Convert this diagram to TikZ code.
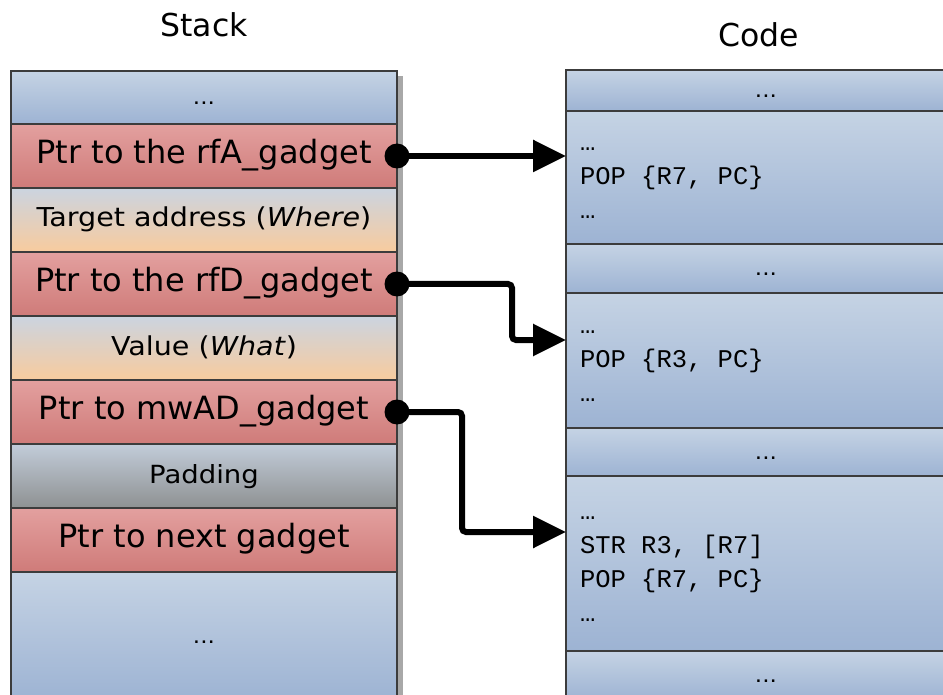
\documentclass[tikz,border=0pt]{standalone}
\usepackage{fontspec}
\usepackage{tikz}
\usetikzlibrary{arrows.meta,positioning,calc}
\usepackage{xcolor}
\setmainfont{DejaVu Sans}
\newfontfamily\cellfont[FakeStretch=1.1]{DejaVu Sans}
\newfontfamily\codefont{Liberation Mono}
\newcommand\cellstrut{\vrule height 24pt depth 10pt width 0pt\relax}
\newcommand\codespace{\spaceskip=15.3pt\relax}
\definecolor{edge}{HTML}{3C3C3C}
\definecolor{blueA}{HTML}{C5D3E4}
\definecolor{blueB}{HTML}{9DB3D3}
\definecolor{redA}{HTML}{E3A09F}
\definecolor{redB}{HTML}{CF7B79}
\definecolor{peachA}{HTML}{CBD4E0}
\definecolor{peachB}{HTML}{F8CB9E}
\definecolor{padA}{HTML}{C2CCD9}
\definecolor{padB}{HTML}{8E9192}
\definecolor{shadow}{HTML}{A8A8A8}

\tikzset{
  cell/.style={draw=edge, line width=1.2pt, minimum width=386pt, inner sep=0pt,
    outer sep=0pt, execute at begin node=\cellstrut},
  bluecell/.style={cell, top color=blueA, bottom color=blueB},
  redcell/.style={cell, top color=redA, bottom color=redB, minimum height=64pt,
    font=\fontsize{32}{34}\selectfont},
  peachcell/.style={cell, top color=peachA, bottom color=peachB, minimum height=64pt,
    font=\cellfont\fontsize{26}{34}\selectfont},
  padcell/.style={cell, top color=padA, bottom color=padB, minimum height=64pt,
    font=\cellfont\fontsize{25}{34}\selectfont},
  dotcell/.style={bluecell, font=\cellfont\fontsize{21}{28}\selectfont},
  codedots/.style={dotcell, minimum width=400pt},
  gadget/.style={cell, top color=blueA, bottom color=blueB, text width=372pt,
    inner xsep=14pt, align=left, execute at begin node={\codespace\cellstrut},
    execute at end node=\cellstrut,
    font=\codefont\fontsize{25.5}{34}\selectfont},
  heading/.style={font=\fontsize{31.5}{36}\selectfont, anchor=base},
  link/.style={line width=6pt, rounded corners=4pt,
    -{Triangle[length=33pt, width=31pt]}},
  dot/.style={circle, fill=black, inner sep=0pt, minimum size=25pt}
}

\begin{document}
\begin{tikzpicture}[x=1pt, y=-1pt]
  \useasboundingbox (0,0) rectangle (943,695);

  % Titles
  \node[heading] (stacktitle) at (204,37) {Stack};
  \node[heading] (codetitle) at (759,47) {Code};

  % Shadow of the stack
  \fill[shadow] (397,76) rectangle (403,700);

  % Stack
  \node[dotcell, anchor=north, minimum height=53pt] (s0) at (204,71) {...};
  \node[redcell, below=0pt of s0] (rfa) {Ptr to the rfA\_gadget};
  \node[peachcell, below=0pt of rfa] (where) {Target address (\textit{Where})};
  \node[redcell, below=0pt of where] (rfd) {Ptr to the rfD\_gadget};
  \node[peachcell, below=0pt of rfd] (what) {Value (\textit{What})};
  \node[redcell, below=0pt of what] (mwad) {Ptr to mwAD\_gadget};
  \node[padcell, below=0pt of mwad] (pad) {Padding};
  \node[redcell, below=0pt of pad] (nextg) {Ptr to next gadget};
  \node[dotcell, below=0pt of nextg, minimum height=128pt] (s9) {...};

  % Code
  \node[codedots, anchor=north west, minimum height=41pt] (c0) at (566,70) {...};
  \node[gadget, below=0pt of c0.south west, anchor=north west, minimum height=133pt]
    (gadA) {…\\POP \{R7, PC\}\\…};
  \node[codedots, below=0pt of gadA.south west, anchor=north west, minimum height=49pt]
    (c1) {...};
  \node[gadget, below=0pt of c1.south west, anchor=north west, minimum height=135pt]
    (gadD) {…\\POP \{R3, PC\}\\…};
  \node[codedots, below=0pt of gadD.south west, anchor=north west, minimum height=48pt]
    (c2) {...};
  \node[gadget, below=0pt of c2.south west, anchor=north west, minimum height=175pt]
    (gadW) {…\\STR R3, [R7]\\POP \{R7, PC\}\\…};
  \node[codedots, below=0pt of gadW.south west, anchor=north west, minimum height=49pt]
    (c3) {...};

  % Targets on the gadgets
  \coordinate (tA) at (gadA.west |- rfa.east);
  \coordinate (tD) at ([yshift=-47pt]gadD.north west);
  \coordinate (tW) at ([yshift=-56pt]gadW.north west);

  % Pointers
  \node[dot] (pA) at (rfa.east) {};
  \node[dot] (pD) at (rfd.east) {};
  \node[dot] (pW) at (mwad.east) {};
  \draw[link] (pA.center) -- (tA);
  \draw[link] (pD.center) -- ++(115,0) |- (tD);
  \draw[link] (pW.center) -- ++(65,0) |- (tW);
\end{tikzpicture}
\end{document}
